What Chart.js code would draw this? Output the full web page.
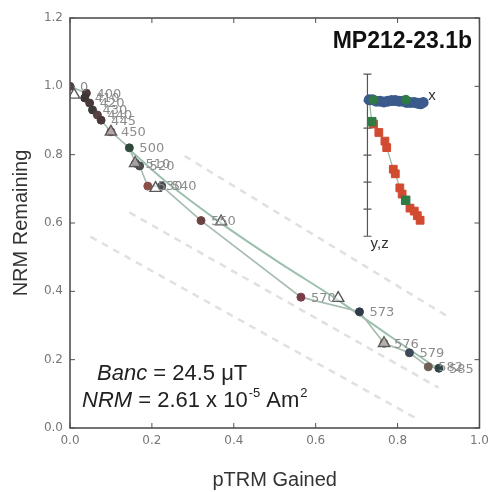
<!DOCTYPE html>
<html><head><meta charset="utf-8">
<script src="https://cdn.jsdelivr.net/npm/chart.js@4/dist/chart.umd.min.js"></script>
<style>
html,body{margin:0;padding:0;background:#fff;}
#wrap{position:relative;width:495px;height:492px;}
#main{position:absolute;left:0;top:0;}
#inset{position:absolute;left:343px;top:55px;}
</style></head><body>
<div id="wrap"><canvas id="main" width="495" height="492"></canvas><canvas id="inset" width="110" height="205"></canvas></div>
<script>
// ---- Arai plot data ----
const temps = ['0','400','410','420','430','440','445','450','500','510','520','530','540','550','570','573','576','579','582','585'];
const ptrm  = [0.000,0.040,0.036,0.048,0.055,0.067,0.076,0.100,0.145,0.160,0.170,0.190,0.224,0.320,0.564,0.707,0.767,0.829,0.875,0.901];
const nrm   = [1.000,0.980,0.966,0.951,0.931,0.916,0.901,0.867,0.820,0.775,0.767,0.708,0.708,0.607,0.383,0.340,0.248,0.220,0.179,0.175];
const pointColors = ['#5a3c3c','#4a3a3a','#3f3535','#4a3a3a','#3d3a3a','#5a4040','#4a3838','#6a4a4a','#2f4a3d','#4a4045','#4a4a50','#8a5048','#4a4a55','#6a4242','#7a3c48','#2f3a48','#6f6552','#3f4858','#6f5f55','#2f4545'];
// pTRM checks (triangles)
const checkX = [0.010,0.100,0.159,0.209,0.369,0.655,0.767];
const checkY = [0.975,0.867,0.775,0.702,0.604,0.380,0.248];
// fitted curve
const fitX = [0.14,0.23,0.38,0.51,0.65,0.78,0.90];
const fitY = [0.82,0.725,0.59,0.485,0.378,0.27,0.172];
// dashed guide lines
const dashAX = [0.28,0.92],  dashAY = [0.796,0.328];
const dashBX = [0.145,0.90], dashBY = [0.631,0.118];
const dashCX = [0.05,0.85],  dashCY = [0.560,0.025];
// axis tick labels
const xTickLabels = ['0.0','0.2','0.4','0.6','0.8','1.0'];
const yTickLabels = ['0.0','0.2','0.4','0.6','0.8','1.0','1.2'];

// ---- Zijderveld inset data ----
const zBlueH = [0.07,0.2,0.35,0.5,0.65,0.8,0.95,1.1,1.25,1.4,1.55,1.7,1.85,2.0,2.1,2.2];
const zBlueV = [0.05,0.05,0.0,0.0,-0.03,0.0,0.02,0.02,0.0,0.0,-0.05,-0.05,-0.05,-0.08,-0.1,-0.05];
const zGreenCH = [0.24,1.52];
const zGreenCV = [0.05,0.05];
const zRedH = [0.24,0.45,0.69,0.76,1.02,1.10,1.28,1.37,1.68,1.85,1.97,2.08];
const zRedV = [-0.85,-1.16,-1.48,-1.72,-2.52,-2.69,-3.21,-3.44,-3.96,-4.07,-4.24,-4.41];
const zGreenSH = [0.17,1.51];
const zGreenSV = [-0.76,-3.67];
const zTicks = [1,0,-1,-2,-3,-4,-5];

const pts = (xs,ys)=>xs.map((x,i)=>({x:x,y:ys[i]}));
const SANS = '"Liberation Sans", Arial, sans-serif';

const mainPlugin = {
  id:'mainDecor',
  afterDatasetsDraw(chart){
    const {ctx, scales:{x,y}} = chart;
    ctx.save();
    ctx.font = '13px "DejaVu Sans"';
    ctx.fillStyle = '#8c8c8c';
    ctx.textBaseline = 'middle';
    ctx.textAlign = 'left';
    temps.forEach((t,i)=>{ ctx.fillText(t, x.getPixelForValue(ptrm[i])+10, y.getPixelForValue(nrm[i])+1); });
    ctx.restore();
  },
  afterDraw(chart){
    const {ctx, chartArea:a, scales:{x,y}} = chart;
    ctx.save();
    ctx.strokeStyle = '#505050';
    ctx.lineWidth = 1.6;
    ctx.strokeRect(a.left, a.top, a.right-a.left, a.bottom-a.top);
    ctx.lineWidth = 1;
    ctx.beginPath();
    x.ticks.forEach(t=>{ const px = x.getPixelForValue(t.value);
      ctx.moveTo(px,a.bottom); ctx.lineTo(px,a.bottom-5);
      ctx.moveTo(px,a.top); ctx.lineTo(px,a.top+5); });
    y.ticks.forEach(t=>{ const py = y.getPixelForValue(t.value);
      ctx.moveTo(a.left,py); ctx.lineTo(a.left+5,py);
      ctx.moveTo(a.right,py); ctx.lineTo(a.right-5,py); });
    ctx.stroke();
    // title
    ctx.fillStyle = '#111';
    ctx.font = 'bold 23px ' + SANS;
    ctx.textAlign = 'right'; ctx.textBaseline = 'middle';
    ctx.fillText('MP212-23.1b', 472, 42);
    // annotations
    ctx.textAlign = 'left';
    ctx.fillStyle = '#222';
    let cx = 97, cy = 374;
    ctx.font = 'italic 22px ' + SANS; ctx.fillText('Banc', cx, cy); cx += ctx.measureText('Banc').width;
    ctx.font = '22px ' + SANS; ctx.fillText(' = 24.5 \u03bcT', cx, cy);
    cx = 82; cy = 401;
    ctx.font = 'italic 22px ' + SANS; ctx.fillText('NRM', cx, cy); cx += ctx.measureText('NRM').width;
    ctx.font = '22px ' + SANS; ctx.fillText(' = 2.61 x 10', cx, cy); cx += ctx.measureText(' = 2.61 x 10').width;
    ctx.font = '13px ' + SANS; ctx.fillText('-5', cx+1, cy-8); cx += ctx.measureText('-5').width + 1;
    ctx.font = '22px ' + SANS; ctx.fillText(' Am', cx, cy); cx += ctx.measureText(' Am').width;
    ctx.font = '13px ' + SANS; ctx.fillText('2', cx+1, cy-8);
    ctx.restore();
  }
};

new Chart(document.getElementById('main'), {
  type:'scatter',
  data:{ datasets:[
    {label:'checks', data:pts(checkX,checkY), pointStyle:'triangle', pointRadius:6.5,
     pointBackgroundColor:'rgba(255,255,255,0.5)', pointBorderColor:'#5a5a5a', pointBorderWidth:1.4, showLine:false},
    {label:'points', data:pts(ptrm,nrm), pointRadius:4, pointBackgroundColor:pointColors, pointBorderColor:pointColors, pointBorderWidth:1, showLine:false},
    {label:'path', data:pts(ptrm,nrm), showLine:true, borderColor:'#a7bcb0', borderWidth:1.6, pointRadius:0, fill:false},
    {label:'fit', data:pts(fitX,fitY), showLine:true, borderColor:'#9cc0ad', borderWidth:2, pointRadius:0, tension:0.2, fill:false},
    {label:'dA', data:pts(dashAX,dashAY), showLine:true, borderColor:'#e0e0e0', borderWidth:2.5, borderDash:[7,6], pointRadius:0},
    {label:'dB', data:pts(dashBX,dashBY), showLine:true, borderColor:'#e0e0e0', borderWidth:2.5, borderDash:[7,6], pointRadius:0},
    {label:'dC', data:pts(dashCX,dashCY), showLine:true, borderColor:'#e0e0e0', borderWidth:2.5, borderDash:[7,6], pointRadius:0}
  ]},
  options:{
    responsive:false, animation:false, devicePixelRatio:1,
    layout:{padding:{top:18,right:11,left:0,bottom:0}},
    plugins:{legend:{display:false}, tooltip:{enabled:false}},
    scales:{
      x:{type:'linear', min:0, max:1,
        afterFit(s){ s.height = 64; },
        afterBuildTicks(s){ s.ticks = xTickLabels.map(l=>({value:parseFloat(l)})); },
        ticks:{callback:(v,i)=>xTickLabels[i], color:'#777', font:{family:'"DejaVu Sans"', size:12}, padding:6, maxRotation:0},
        grid:{display:true, drawOnChartArea:false, drawTicks:false},
        border:{display:false},
        title:{display:true, text:'pTRM Gained', color:'#333', font:{family:SANS, size:20}, padding:{top:0,bottom:0}}
      },
      y:{type:'linear', min:0, max:1.2,
        afterFit(s){ s.width = 70; },
        afterBuildTicks(s){ s.ticks = yTickLabels.map(l=>({value:parseFloat(l)})); },
        ticks:{callback:(v,i)=>yTickLabels[i], color:'#777', font:{family:'"DejaVu Sans"', size:12}, padding:7},
        grid:{display:true, drawOnChartArea:false, drawTicks:false},
        border:{display:false},
        title:{display:true, text:'NRM Remaining', color:'#333', font:{family:SANS, size:20}, padding:{top:9,bottom:0}}
      }
    }
  },
  plugins:[mainPlugin]
});

// ---- inset ----
const insetPlugin = {
  id:'insetAxis',
  beforeDatasetsDraw(chart){
    const {ctx, scales:{x,y}} = chart;
    const x0 = x.getPixelForValue(0);
    ctx.save();
    ctx.strokeStyle = '#555'; ctx.lineWidth = 1.2;
    ctx.beginPath();
    ctx.moveTo(x0, y.getPixelForValue(zTicks[0])); ctx.lineTo(x0, y.getPixelForValue(zTicks[zTicks.length-1]));
    zTicks.forEach(t=>{ const py = y.getPixelForValue(t); ctx.moveTo(x0-4,py); ctx.lineTo(x0+4,py); });
    ctx.moveTo(x0, y.getPixelForValue(0)); ctx.lineTo(x.getPixelForValue(zBlueH[zBlueH.length-1]), y.getPixelForValue(0));
    ctx.stroke();
    ctx.restore();
  },
  afterDraw(chart){
    const {ctx, scales:{x,y}} = chart;
    ctx.save();
    ctx.fillStyle = '#333';
    ctx.font = '15px ' + SANS;
    ctx.textBaseline = 'middle'; ctx.textAlign = 'center';
    ctx.fillText('x', x.getPixelForValue(2.55), y.getPixelForValue(0.2));
    ctx.fillText('y,z', x.getPixelForValue(0.48), y.getPixelForValue(-5.3));
    ctx.restore();
  }
};
const zLineData = [{x:zBlueH[0], y:zBlueV[0]}].concat(pts(zGreenSH,zGreenSV), pts(zRedH,zRedV)).sort((p,q)=>q.y-p.y);

new Chart(document.getElementById('inset'), {
  type:'scatter',
  data:{ datasets:[
    {label:'gs', data:pts(zGreenSH,zGreenSV), pointStyle:'rect', pointRadius:6, pointBackgroundColor:'#2f7a45', pointBorderColor:'#2f7a45', showLine:false},
    {label:'gc', data:pts(zGreenCH,zGreenCV), pointRadius:4.5, pointBackgroundColor:'#2f7a45', pointBorderColor:'#2f7a45', showLine:false},
    {label:'red', data:pts(zRedH,zRedV), pointStyle:'rect', pointRadius:5.5, pointBackgroundColor:'#d24a30', pointBorderColor:'#d24a30', showLine:false},
    {label:'blue', data:pts(zBlueH,zBlueV), pointRadius:4.5, pointBackgroundColor:'#3c5a8c', pointBorderColor:'#3c5a8c', showLine:true, borderColor:'#3c5a8c', borderWidth:2},
    {label:'zline', data:zLineData, showLine:true, borderColor:'#8fb89a', borderWidth:1.2, pointRadius:0}
  ]},
  options:{
    responsive:false, animation:false, devicePixelRatio:1,
    layout:{padding:0},
    plugins:{legend:{display:false}, tooltip:{enabled:false}},
    scales:{
      x:{type:'linear', display:false, min:-20/29, max:90/29},
      y:{type:'linear', display:false, min:-163/29, max:42/29}
    },
    clip:false
  },
  plugins:[insetPlugin]
});
</script>
</body></html>
